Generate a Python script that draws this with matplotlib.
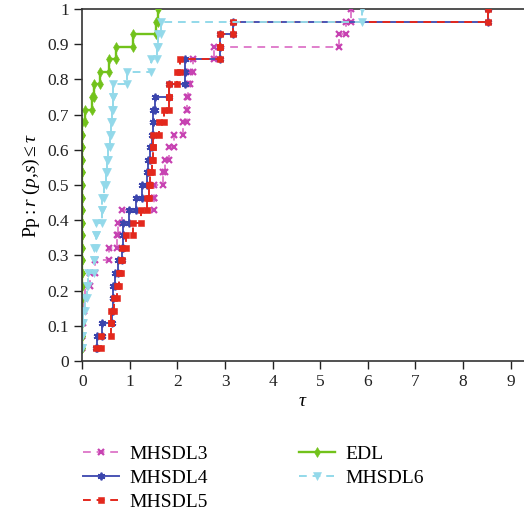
import numpy as np
import matplotlib
matplotlib.use('Agg')
import matplotlib.pyplot as plt

plt.rcParams['font.family'] = ['Liberation Serif', 'DejaVu Serif']
plt.rcParams['mathtext.fontset'] = 'custom'
plt.rcParams['mathtext.rm'] = 'Liberation Serif'
plt.rcParams['mathtext.it'] = 'Liberation Serif:italic'

n_problems = 28

# sorted performance ratios (tau) at which each solver reaches level k/28
tau_mhsdl3 = [0, 0, 0, 0.02, 0.04, 0.06, 0.16, 0.27, 0.56, 0.72, 0.76, 0.84, 1.51, 1.51,
              1.70, 1.74, 1.83, 1.93, 2.12, 2.19, 2.21, 2.23, 2.26, 2.32, 2.77, 5.40, 5.55, 5.64]
tau_mhsdl4 = [0.29, 0.30, 0.41, 0.62, 0.64, 0.65, 0.69, 0.76, 0.83, 0.86, 0.86, 0.99, 1.13, 1.25,
              1.37, 1.39, 1.42, 1.46, 1.48, 1.49, 1.53, 1.82, 2.15, 2.15, 2.89, 2.89, 3.17, 8.53]
tau_mhsdl5 = [0.28, 0.39, 0.60, 0.61, 0.66, 0.74, 0.77, 0.81, 0.84, 0.92, 1.07, 1.23, 1.37, 1.40,
              1.43, 1.46, 1.48, 1.49, 1.61, 1.72, 1.82, 1.82, 2.00, 2.05, 2.89, 2.89, 3.17, 8.53]
tau_edl = [0] * 19 + [0.06, 0.21, 0.25, 0.37, 0.57, 0.71, 1.06, 1.55, 1.60]
tau_mhsdl6 = [0, 0, 0, 0.02, 0.06, 0.09, 0.11, 0.25, 0.25, 0.28, 0.28, 0.41, 0.42, 0.46,
              0.50, 0.52, 0.55, 0.58, 0.60, 0.62, 0.64, 0.65, 0.93, 1.44, 1.58, 1.60, 1.65, 5.88]


def stairs(t):
    # vertices of the profile step: (t1,1),(t2,1),(t2,2),(t3,2)...
    xs, ys = [t[0]], [1]
    for k in range(1, len(t)):
        xs += [t[k], t[k]]
        ys += [k, k + 1]
    return np.array(xs), np.array(ys) / n_problems


fig = plt.figure(figsize=(5.24, 5.15), dpi=100)
ax = fig.add_axes([0.157, 0.299, 0.843, 0.6835])

x, y = stairs(tau_mhsdl3)
ax.plot(x, y, color='#e07fcc', lw=1.4, dashes=(4, 3), marker='x', ms=4, mew=1.6,
        mec='#c743b2', label='MHSDL3')
x, y = stairs(tau_mhsdl4)
ax.plot(x, y, color='#4a54b4', lw=1.4, marker=(6, 2, 0), ms=5.5, mew=1.3,
        mec='#3b45ad', label='MHSDL4')
x, y = stairs(tau_mhsdl5)
ax.plot(x, y, color='#e3281d', lw=1.4, dashes=(4, 3), marker='s', ms=4.3, mew=0.4,
        label='MHSDL5')
x, y = stairs(tau_edl)
ax.plot(x, y, color='#72c21b', lw=1.7, marker='d', ms=5, mew=0.4, label='EDL')
x, y = stairs(tau_mhsdl6)
ax.plot(x, y, color='#93d9ea', lw=1.4, dashes=(4, 3), marker='v', ms=5.5, mew=0.4,
        label='MHSDL6')

ax.set_xlim(0, 9.28)
ax.set_ylim(0, 1)
ax.set_xticks(range(10))
ax.set_yticks(np.arange(0, 1.01, 0.1))
ax.set_yticklabels(['0', '0.1', '0.2', '0.3', '0.4', '0.5', '0.6', '0.7', '0.8', '0.9', '1'])
ax.tick_params(direction='out', length=5.8, width=1, labelsize=12.5, colors='#222222')
ax.spines['right'].set_visible(False)
for s in ['left', 'bottom', 'top']:
    ax.spines[s].set_color('#333333')
    ax.spines[s].set_linewidth(1.2)
ax.spines['top'].set_zorder(0)

ax.set_xlabel(r'$\tau$', fontsize=14, labelpad=2)
ax.set_ylabel(r'$\mathrm{Pp{:}}r\ (p{,}s) \leq \tau$', fontsize=14, labelpad=4)

fig.legend(loc='upper left', bbox_to_anchor=(0.139, 0.154), ncol=2, frameon=False,
           fontsize=14, handlelength=1.85, handletextpad=0.55, columnspacing=4.7,
           labelspacing=0.32, borderpad=0, numpoints=1)

fig.savefig('out.png', dpi=100)
